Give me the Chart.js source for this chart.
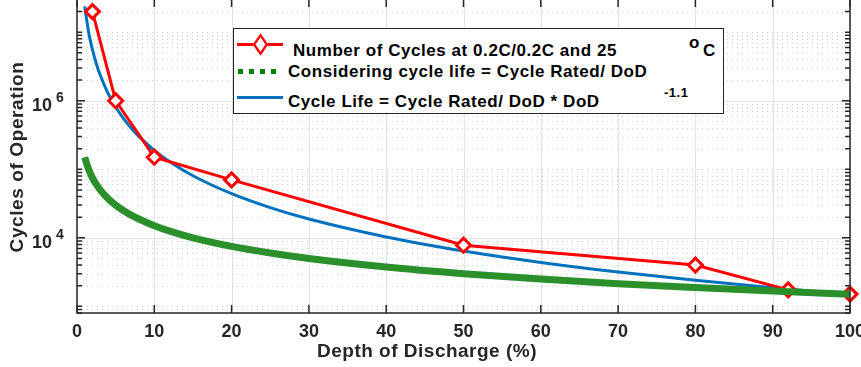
<!DOCTYPE html>
<html>
<head>
<meta charset="utf-8">
<script src="https://cdn.jsdelivr.net/npm/chart.js@4.4.1/dist/chart.umd.min.js"></script>
<style>
  html, body { margin: 0; padding: 0; background: #fff; }
  #wrap { position: relative; width: 861px; height: 367px; overflow: hidden; }
  #myChart { position: absolute; left: 0; top: 0; }
  .legend { position: absolute; left: 233px; top: 28px; width: 489px; height: 84px;
            border: 1.5px solid #262626; background: #fff;
            font-family: "Liberation Sans", Arial, sans-serif; font-weight: bold; font-size: 17px;
            letter-spacing: 0.55px; color: #000; }
  .legend span { position: absolute; white-space: nowrap; line-height: 1; }
  .sw { position: absolute; }
</style>
</head>
<body>
<div id="wrap">
  <canvas id="myChart" width="861" height="367"></canvas>
  <div class="legend">
    <div class="sw" style="left:3px;top:14px;width:46px;border-top:3px solid #ff0000;"></div>
    <div class="sw" style="left:21px;top:10px;width:7px;height:7px;border:2.5px solid #ff0000;background:#fff;transform:scaleY(1.45) rotate(45deg);"></div>
    <span style="left:59px;top:13px;">Number of Cycles at 0.2C/0.2C and 25</span>
    <span style="left:455px;top:5px;">o</span>
    <span style="left:469px;top:13px;">C</span>
    <div class="sw" style="left:4px;top:40px;width:40px;height:5px;background:repeating-linear-gradient(to right, #008000 0 5px, transparent 5px 11px);"></div>
    <span style="left:54px;top:34px;">Considering cycle life = Cycle Rated/ DoD</span>
    <div class="sw" style="left:3px;top:67px;width:46px;border-top:3px solid #0072bd;"></div>
    <span style="left:54px;top:64px;">Cycle Life = Cycle Rated/ DoD * DoD</span>
    <span style="left:430px;top:57px;font-size:13px;letter-spacing:0.5px;">-1.1</span>
  </div>
</div>
<script>
// depth of discharge (%) and cycles
const testDoD = [2, 5, 10, 20, 50, 80, 92, 100];
const testCycles = [20000000, 1000000, 150000, 70000, 7800, 4000, 1740, 1510];

const curveDoD = [1, 1.5, 2, 2.5, 3, 4, 5, 6, 7, 8, 10, 12, 15, 20, 25, 30, 40, 50, 60, 70, 80, 90, 100];
const ratedOverDoD = [150000, 100000, 75000, 60000, 50000, 37500, 30000, 25000, 21400, 18800, 15000, 12500, 10000,
                      7500, 6000, 5000, 3750, 3000, 2500, 2140, 1880, 1670, 1500];
const cycleLifePow = [23800000, 10100000, 5550000, 3470000, 2370000, 1290000, 809000, 552000, 400000, 302000, 189000,
                      129000, 80600, 44100, 27600, 18800, 10300, 6430, 4380, 3170, 2400, 1870, 1500];

const xTicks = [0, 10, 20, 30, 40, 50, 60, 70, 80, 90, 100];
const yMajorTicks = [10000, 1000000];
const yMajorExp = ['4', '6'];
const yMinorTicks = [800, 900, 1000, 2000, 3000, 4000, 5000, 6000, 7000, 8000, 9000,
                     20000, 30000, 40000, 50000, 60000, 70000, 80000, 90000, 100000,
                     200000, 300000, 400000, 500000, 600000, 700000, 800000, 900000,
                     2000000, 3000000, 4000000, 5000000, 6000000, 7000000, 8000000, 9000000, 10000000, 20000000];

const toPoints = (xs, ys) => xs.map((v, i) => ({ x: v, y: ys[i] }));

const FONT = '"Liberation Sans", Arial, sans-serif';

const axesDeco = {
    id: 'axesDeco',
    beforeDatasetsDraw(chart) {
        const { ctx, chartArea: a, scales: { x, y } } = chart;
        ctx.save();
        ctx.lineWidth = 1;
        // vertical grid
        ctx.strokeStyle = '#e2e2e2';
        xTicks.forEach(v => {
            const px = Math.round(x.getPixelForValue(v)) + 0.5;
            ctx.beginPath(); ctx.moveTo(px, a.top); ctx.lineTo(px, a.bottom); ctx.stroke();
        });
        // minor horizontal grid (dotted)
        ctx.strokeStyle = '#cdcdcd';
        ctx.setLineDash([1, 4]);
        yMinorTicks.forEach(v => {
            const py = Math.round(y.getPixelForValue(v)) + 0.5;
            ctx.beginPath(); ctx.moveTo(a.left, py); ctx.lineTo(a.right, py); ctx.stroke();
        });
        ctx.setLineDash([]);
        ctx.strokeStyle = '#e2e2e2';
        yMajorTicks.forEach(v => {
            const py = Math.round(y.getPixelForValue(v)) + 0.5;
            ctx.beginPath(); ctx.moveTo(a.left, py); ctx.lineTo(a.right, py); ctx.stroke();
        });
        ctx.restore();
    },
    afterDatasetsDraw(chart) {
        const { ctx, chartArea: a, scales: { x, y } } = chart;
        ctx.save();
        ctx.strokeStyle = '#262626';
        ctx.lineWidth = 1.5;
        // box
        ctx.beginPath();
        ctx.moveTo(a.left, a.top); ctx.lineTo(a.left, a.bottom); ctx.lineTo(a.right, a.bottom); ctx.lineTo(a.right, a.top);
        ctx.stroke();
        // x ticks
        xTicks.forEach(v => {
            const px = x.getPixelForValue(v);
            ctx.beginPath();
            ctx.moveTo(px, a.bottom); ctx.lineTo(px, a.bottom - 8);
            ctx.moveTo(px, a.top); ctx.lineTo(px, a.top + 7);
            ctx.stroke();
        });
        // y ticks
        yMinorTicks.forEach(v => {
            const py = y.getPixelForValue(v);
            ctx.beginPath();
            ctx.moveTo(a.left, py); ctx.lineTo(a.left + 5, py);
            ctx.moveTo(a.right, py); ctx.lineTo(a.right - 5, py);
            ctx.stroke();
        });
        yMajorTicks.forEach(v => {
            const py = y.getPixelForValue(v);
            ctx.beginPath();
            ctx.moveTo(a.left, py); ctx.lineTo(a.left + 8, py);
            ctx.moveTo(a.right, py); ctx.lineTo(a.right - 8, py);
            ctx.stroke();
        });
        // tick labels
        ctx.fillStyle = '#262626';
        ctx.font = 'bold 18px ' + FONT;
        ctx.textAlign = 'center';
        ctx.textBaseline = 'middle';
        xTicks.forEach(v => {
            ctx.fillText(String(v), x.getPixelForValue(v), a.bottom + 19);
        });
        yMajorTicks.forEach((v, i) => {
            const py = y.getPixelForValue(v);
            ctx.font = 'bold 18px ' + FONT;
            ctx.textAlign = 'right';
            ctx.fillText('10', 52, py + 5);
            ctx.font = 'bold 14px ' + FONT;
            ctx.textAlign = 'left';
            ctx.fillText(yMajorExp[i], 56, py - 3);
        });
        // axis titles
        ctx.font = 'bold 19px ' + FONT;
        ctx.letterSpacing = '0.5px';
        ctx.textAlign = 'center';
        ctx.fillText('Depth of Discharge (%)', 427, a.bottom + 39);
        ctx.translate(18, 157);
        ctx.rotate(-Math.PI / 2);
        ctx.letterSpacing = '0.6px';
        ctx.fillText('Cycles of Operation', 0, 0);
        ctx.restore();
    }
};

const ctx = document.getElementById('myChart');

new Chart(ctx, {
    type: 'line',
    data: {
        datasets: [{
            label: 'Number of Cycles at 0.2C/0.2C and 25 °C',
            data: toPoints(testDoD, testCycles),
            borderColor: '#ff0000',
            borderWidth: 3,
            pointStyle: 'rectRot',
            pointRadius: 7,
            pointBorderWidth: 3,
            pointBackgroundColor: '#ffffff',
            pointBorderColor: '#ff0000',
            tension: 0,
            order: 1
        }, {
            label: 'Considering cycle life = Cycle Rated/ DoD',
            data: toPoints(curveDoD, ratedOverDoD),
            borderColor: '#2b8f2b',
            borderWidth: 7,
            pointRadius: 0,
            cubicInterpolationMode: 'monotone',
            order: 0
        }, {
            label: 'Cycle Life = Cycle Rated/ DoD * DoD^-1.1',
            data: toPoints(curveDoD, cycleLifePow),
            borderColor: '#0072bd',
            borderWidth: 3,
            pointRadius: 0,
            cubicInterpolationMode: 'monotone',
            order: 2
        }]
    },
    options: {
        responsive: false,
        animation: false,
        devicePixelRatio: 1,
        layout: { autoPadding: false, padding: { left: 0, right: 11, top: 0, bottom: 0 } },
        clip: false,
        scales: {
            x: {
                type: 'linear',
                min: 0,
                max: 100,
                grid: { display: false },
                border: { display: false },
                ticks: { display: false },
                afterFit: s => { s.height = 54; }
            },
            y: {
                type: 'logarithmic',
                min: 800,
                max: 29500000,
                grid: { display: false },
                border: { display: false },
                ticks: { display: false },
                afterFit: s => { s.width = 77; }
            }
        },
        plugins: {
            legend: { display: false },
            tooltip: { enabled: false }
        }
    },
    plugins: [axesDeco]
});
</script>
</body>
</html>
